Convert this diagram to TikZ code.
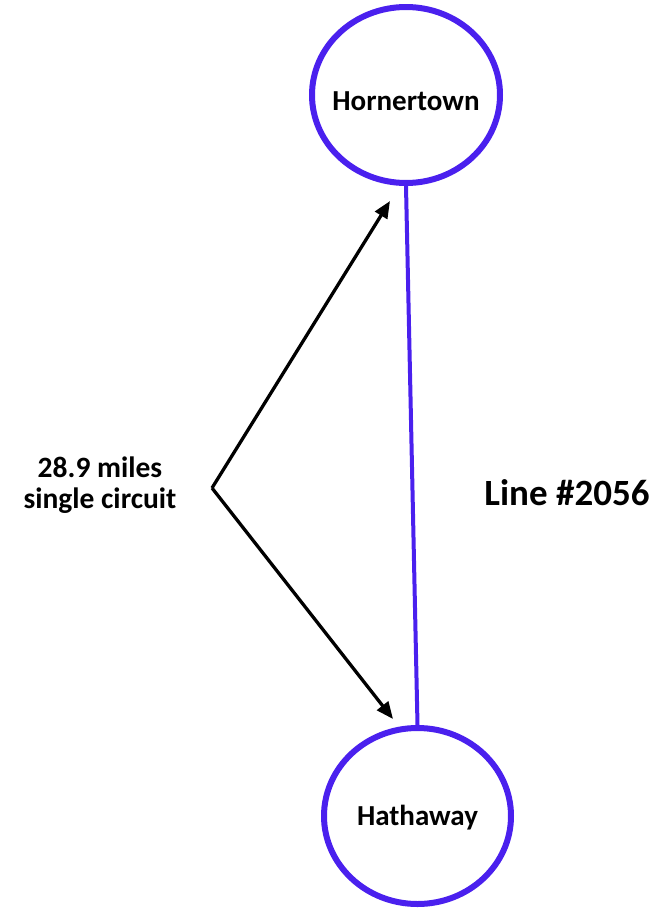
\documentclass[tikz,border=0pt]{standalone}
\usepackage{fontspec}
\setmainfont{Carlito}
\usetikzlibrary{shapes.geometric,arrows.meta}
\definecolor{linecol}{RGB}{74,32,238}
\tikzset{
  station/.style={ellipse, draw=linecol, line width=6pt, inner sep=0pt},
  stationtext/.style={font=\fontsize{29}{30}\selectfont\bfseries, inner sep=0pt},
  tie/.style={draw=linecol, line width=4pt},
  ptr/.style={line width=3.3pt, -{Triangle[length=17pt,width=14pt]}},
  lbl/.style={font=\fontsize{29.5}{30.5}\selectfont\bfseries, align=center, inner sep=0pt}
}
\begin{document}
\begin{tikzpicture}[x=1pt,y=-1pt]
\useasboundingbox (0,0) rectangle (666,908);
\node[station, minimum width=188pt, minimum height=176pt,
  label={[stationtext, yshift=-6pt]center:Hornertown}] (horn) at (406,95) {};
\node[station, minimum width=187pt, minimum height=176pt,
  label={[stationtext, yshift=-2pt]center:Hathaway}] (hath) at (417.5,816) {};
\draw[tie] (horn.south) -- (hath.north);
\coordinate (apex) at (212,488);
\coordinate (tipA) at (390,201);
\coordinate (tipB) at (393,719);
\draw[ptr] (apex) -- (tipA);
\draw[ptr] (apex) -- (tipB);
\node[lbl] (dist) at (100,485) {28.9 miles\\single circuit};
\node[lbl, font=\fontsize{37}{38}\selectfont\bfseries] (name) at (567,493) {Line \#2056};
\end{tikzpicture}
\end{document}
